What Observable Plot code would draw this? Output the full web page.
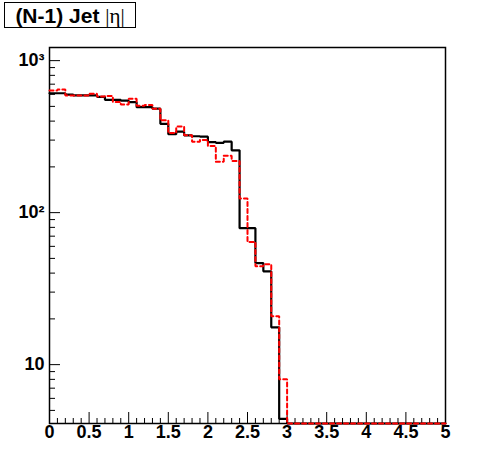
<!DOCTYPE html>
<html><head><meta charset="utf-8">
<script src="https://cdn.jsdelivr.net/npm/d3@7"></script>
<script src="https://cdn.jsdelivr.net/npm/@observablehq/plot@0.6"></script>
<style>
html,body{margin:0;padding:0;background:#fff;}
#wrap{position:relative;width:496px;height:472px;}
#title{position:absolute;left:4px;top:2px;width:130px;height:24px;border:1px solid #000;background:#fff;font-family:"Liberation Sans",Arial,sans-serif;font-size:21px;font-weight:bold;text-align:center;line-height:26px;white-space:nowrap;z-index:2;}
#title span{font-family:"Liberation Serif",serif;font-weight:normal;}
</style></head>
<body><div id="wrap"><div id="title">(N-1) Jet <span>|η|</span></div></div>
<script>
const binLow = 0;
const binWidth = 0.1;
const blackCounts = [610, 610, 598, 590, 590, 590, 578, 552, 552, 545,
  533, 494, 494, 483, 384, 328, 341, 322, 318, 316,
  291, 288, 293, 257, 79, 79, 46.6, 41.1, 17.6, 4.4,
  0, 0, 0, 0, 0, 0, 0, 0, 0, 0,
  0, 0, 0, 0, 0, 0, 0, 0, 0, 0];
const redCounts = [635, 646, 590, 590, 590, 605, 581, 585, 535, 515,
  561, 505, 510, 482, 405, 334, 368, 323, 293, 301,
  274, 216, 237, 219, 124, 64.2, 44.4, 45.7, 20.8, 8.0,
  0, 0, 0, 0, 0, 0, 0, 0, 0, 0,
  0, 0, 0, 0, 0, 0, 0, 0, 0, 0];
const xMajorTicks = [0, 0.5, 1, 1.5, 2, 2.5, 3, 3.5, 4, 4.5, 5];
const xTickLabels = ["0", "0.5", "1", "1.5", "2", "2.5", "3", "3.5", "4", "4.5", "5"];
const xMinorTicks = [0.1,0.2,0.3,0.4,0.6,0.7,0.8,0.9,1.1,1.2,1.3,1.4,1.6,1.7,1.8,1.9,2.1,2.2,2.3,2.4,2.6,2.7,2.8,2.9,3.1,3.2,3.3,3.4,3.6,3.7,3.8,3.9,4.1,4.2,4.3,4.4,4.6,4.7,4.8,4.9];
const yMajorTicks = [10, 100, 1000];
const yTickLabels = ["10", "10²", "10³"];
const yMinorTicks = [5,6,7,8,9,20,30,40,50,60,70,80,90,200,300,400,500,600,700,800,900];
const yDomain = [4.1, 1220];

function steps(counts) {
  const pts = [];
  counts.forEach((c, i) => {
    const v = c > 0 ? c : yDomain[0];
    pts.push({x: binLow + i * binWidth, y: v}, {x: binLow + (i + 1) * binWidth, y: v});
  });
  return pts;
}

const W = 496, H = 472, mL = 49, mR = 51, mT = 47, mB = 49;
const fw = W - mL - mR, fh = H - mT - mB;
const font = "'Liberation Sans', Arial, sans-serif";

const chart = Plot.plot({
  width: W, height: H,
  marginLeft: mL, marginRight: mR, marginTop: mT, marginBottom: mB,
  x: {domain: [0, 5], axis: null},
  y: {type: "log", domain: yDomain, axis: null},
  style: {background: "white", fontFamily: font, overflow: "visible"},
  marks: [
    Plot.tickX(xMinorTicks, {x: d => d, insetTop: fh - 5, stroke: "black", strokeWidth: 1}),
    Plot.tickX(xMajorTicks, {x: d => d, insetTop: fh - 11, stroke: "black", strokeWidth: 1}),
    Plot.tickY(yMinorTicks, {y: d => d, insetRight: fw - 6, stroke: "black", strokeWidth: 1}),
    Plot.tickY(yMajorTicks, {y: d => d, insetRight: fw - 11, stroke: "black", strokeWidth: 1}),
    Plot.text(xMajorTicks, {x: d => d, text: (d, i) => xTickLabels[i], frameAnchor: "bottom", dy: 14, fontSize: 18, fontWeight: "bold", fill: "black"}),
    Plot.text(yMajorTicks, {y: d => d, text: (d, i) => yTickLabels[i], frameAnchor: "left", dx: -5, textAnchor: "end", fontSize: 18, fontWeight: "bold", fill: "black"}),
    Plot.frame({stroke: "black", strokeWidth: 1.5}),
    Plot.line(steps(blackCounts), {x: "x", y: "y", stroke: "black", strokeWidth: 2.2, strokeLinejoin: "miter"}),
    Plot.line(steps(redCounts), {x: "x", y: "y", stroke: "red", strokeWidth: 2, strokeDasharray: "4,3", strokeLinejoin: "miter"})
  ]
});
document.getElementById("wrap").appendChild(chart);
chart.style.position = "absolute";
chart.style.left = "0";
chart.style.top = "0";
</script>
</body></html>
